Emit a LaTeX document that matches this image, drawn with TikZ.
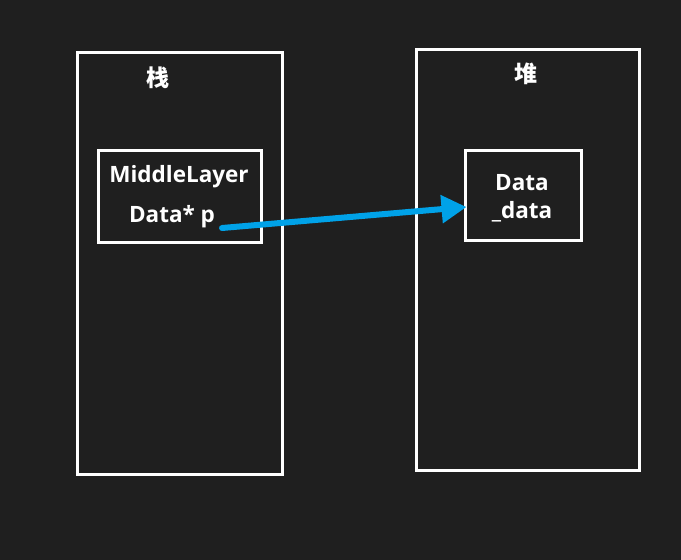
\documentclass[tikz,border=0pt]{standalone}
\usepackage{xcolor}
\usepackage{fontspec}
\setmainfont{Open Sans}
\newfontfamily\cjk{Noto Sans CJK SC}
\usetikzlibrary{arrows.meta}
\definecolor{bg}{HTML}{1F1F1F}
\definecolor{ptrblue}{HTML}{00A2E8}

\begin{document}
\begin{tikzpicture}[x=1pt, y=-1pt, font=\fontsize{22.5}{27}\selectfont\bfseries]
	\fill[bg] (0,0) rectangle (681,560);
	\useasboundingbox (0,0) rectangle (681,560);

	\node[draw=white, line width=3pt, minimum width=205pt, minimum height=422pt] (stack) at (180,263) {};
	\node[draw=white, line width=3pt, minimum width=223pt, minimum height=421pt] (heap) at (528,259.5) {};
	\node[text=white, font=\fontsize{23}{27}\selectfont\cjk\bfseries] (stacklabel) at (158,78) {栈};
	\node[text=white, font=\fontsize{23}{27}\selectfont\cjk\bfseries] (heaplabel) at (526,74) {堆};

	\node[draw=white, line width=3pt, minimum width=163pt, minimum height=92pt] (middle) at (180,196) {};
	\node[text=white] (mname) at (179,177) {MiddleLayer};
	\node[text=white] (p) at (172,217) {Data* p};

	\node[draw=white, line width=3pt, minimum width=116pt, minimum height=90pt] (dataobj) at (523,195) {};
	\node[text=white] (dname) at (522,183) {Data};
	\node[text=white] (dvar) at (522,212) {\_data};

	\coordinate (ptr) at (222,228);
	\draw[-{Triangle[length=25pt, width=27pt]}, line width=6pt, line cap=round, ptrblue] (ptr) -- ([xshift=3pt, yshift=-12pt]dataobj.west);
\end{tikzpicture}
\end{document}
